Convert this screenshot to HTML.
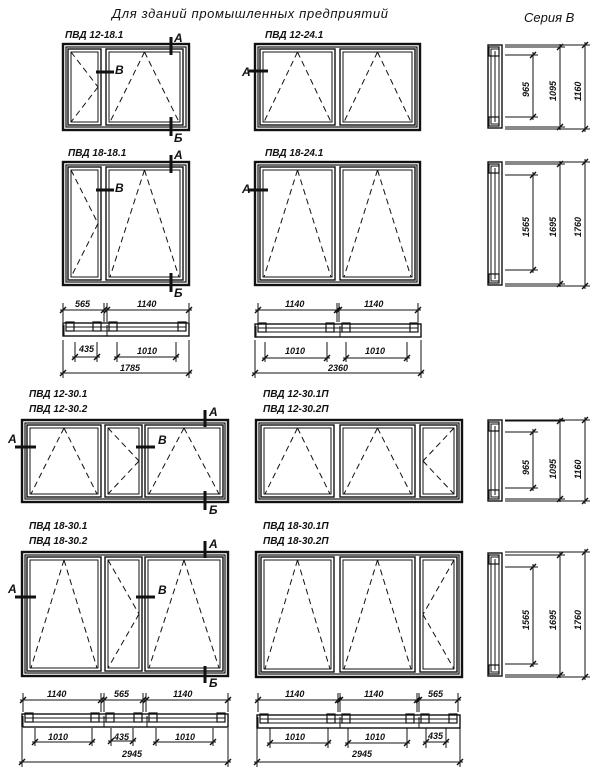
<!DOCTYPE html>
<html><head><meta charset="utf-8"><style>
html,body{margin:0;padding:0;background:#fff;}
svg{display:block;}
text{font-family:"Liberation Sans","DejaVu Sans",sans-serif;font-style:italic;font-weight:bold;fill:#111;}
.t{font-size:13px;font-weight:normal;}
.l{font-size:10px;}
.d{font-size:9px;}
.m{font-size:12px;}
</style></head><body>
<svg id="s" width="600" height="773" viewBox="0 0 600 773" xmlns="http://www.w3.org/2000/svg">
<rect width="600" height="773" fill="#fff"/>
<g id="g" fill="none" stroke="#111"></g>
<text class="t" x="112" y="18" textLength="276">Для зданий промышленных предприятий</text>
<text class="t" x="524" y="22">Серия В</text>
<text class="l" x="65" y="38">ПВД 12-18.1</text>
<text class="l" x="68" y="156">ПВД 18-18.1</text>
<text class="l" x="265" y="38">ПВД 12-24.1</text>
<text class="l" x="265" y="156">ПВД 18-24.1</text>
<text class="l" x="29" y="397">ПВД 12-30.1</text>
<text class="l" x="29" y="412">ПВД 12-30.2</text>
<text class="l" x="263" y="397">ПВД 12-30.1П</text>
<text class="l" x="263" y="412">ПВД 12-30.2П</text>
<text class="l" x="29" y="529">ПВД 18-30.1</text>
<text class="l" x="29" y="544">ПВД 18-30.2</text>
<text class="l" x="263" y="529">ПВД 18-30.1П</text>
<text class="l" x="263" y="544">ПВД 18-30.2П</text>
<!-- section marks labels -->
<text class="m" x="174" y="42">А</text><text class="m" x="174" y="142">Б</text><text class="m" x="115" y="74">В</text>
<text class="m" x="174" y="159">А</text><text class="m" x="174" y="297">Б</text><text class="m" x="115" y="192">В</text>
<text class="m" x="242" y="76">А</text><text class="m" x="242" y="193">А</text>
<text class="m" x="209" y="416">А</text><text class="m" x="209" y="514">Б</text><text class="m" x="8" y="443">А</text><text class="m" x="158" y="444">В</text>
<text class="m" x="209" y="548">А</text><text class="m" x="209" y="687">Б</text><text class="m" x="8" y="593">А</text><text class="m" x="158" y="594">В</text>
<!-- dims -->
<text class="d" x="75" y="307">565</text><text class="d" x="137" y="307">1140</text>
<text class="d" x="79" y="352">435</text><text class="d" x="137" y="354">1010</text><text class="d" x="120" y="371">1785</text>
<text class="d" x="285" y="307">1140</text><text class="d" x="364" y="307">1140</text>
<text class="d" x="285" y="354">1010</text><text class="d" x="365" y="354">1010</text><text class="d" x="328" y="371">2360</text>
<text class="d" x="47" y="697">1140</text><text class="d" x="114" y="697">565</text><text class="d" x="173" y="697">1140</text>
<text class="d" x="48" y="740">1010</text><text class="d" x="114" y="740">435</text><text class="d" x="175" y="740">1010</text><text class="d" x="122" y="757">2945</text>
<text class="d" x="285" y="697">1140</text><text class="d" x="364" y="697">1140</text><text class="d" x="428" y="697">565</text>
<text class="d" x="285" y="740">1010</text><text class="d" x="365" y="740">1010</text><text class="d" x="428" y="739">435</text><text class="d" x="352" y="757">2945</text>
<g class="d">
<text class="d" transform="translate(529,97) rotate(-90)">965</text>
<text class="d" transform="translate(556,101) rotate(-90)">1095</text>
<text class="d" transform="translate(581,101) rotate(-90)">1160</text>
<text class="d" transform="translate(529,237) rotate(-90)">1565</text>
<text class="d" transform="translate(556,237) rotate(-90)">1695</text>
<text class="d" transform="translate(581,237) rotate(-90)">1760</text>
<text class="d" transform="translate(529,475) rotate(-90)">965</text>
<text class="d" transform="translate(556,479) rotate(-90)">1095</text>
<text class="d" transform="translate(581,479) rotate(-90)">1160</text>
<text class="d" transform="translate(529,630) rotate(-90)">1565</text>
<text class="d" transform="translate(556,630) rotate(-90)">1695</text>
<text class="d" transform="translate(581,630) rotate(-90)">1760</text>
</g>
</svg>
<script>
var g=document.getElementById('g'),NS='http://www.w3.org/2000/svg';
function el(t,a){var e=document.createElementNS(NS,t);for(var k in a)e.setAttribute(k,a[k]);g.appendChild(e);return e;}
function R(x1,y1,x2,y2,w){el('rect',{x:x1,y:y1,width:x2-x1,height:y2-y1,'stroke-width':w||1.2});}
function L(x1,y1,x2,y2,w,da){var o={x1:x1,y1:y1,x2:x2,y2:y2,'stroke-width':w||1};if(da)o['stroke-dasharray']=da;el('line',o);}
function win(x1,y1,x2,y2,s){
 R(x1,y1,x2,y2,2.4);R(x1+3,y1+3,x2-3,y2-3,1.2);
 s.forEach(function(q){var a=q[0],b=q[1],t=q[2],ty=y1+5,by=y2-5;
  R(a,ty,b,by,1.4);var ia=a+3,ib=b-3,it=ty+3,iB=by-3;R(ia,it,ib,iB,1);
  var D='6,4';
  if(t=='^'){var c=(ia+ib)/2;L(c,it,ia+1,iB,1,D);L(c,it,ib-1,iB,1,D);}
  else if(t=='>'){var m=(it+iB)/2;L(ia,it,ib,m,1,D);L(ib,m,ia,iB,1,D);}
  else {var m=(it+iB)/2;L(ib,it,ia,m,1,D);L(ia,m,ib,iB,1,D);}
 });}
function mv(x,y1,y2){L(x,y1,x,y2,3);}
function mh(y,x1,x2){L(x1,y,x2,y,3);}
function tk(x,y){L(x-3,y+3,x+3,y-3,1.4);}
function dh(x1,x2,y,e1,e2){L(x1-3,y,x2+3,y,1);tk(x1,y);tk(x2,y);if(e1!=null){L(x1,e1,x1,e2,1);L(x2,e1,x2,e2,1);}}
function dv(x,y1,y2,xe){L(x,y1-3,x,y2+3,1);tk(x,y1);tk(x,y2);L(xe,y1,x+5,y1,1);L(xe,y2,x+5,y2,1);}
function plan(x1,x2,y,b){R(x1,y,x2,y+13,1.4);L(x1+3,y+4,x2-3,y+4,1);L(x1+3,y+8,x2-3,y+8,1);
 b.forEach(function(q){R(q[0]+3,y-1,q[0]+11,y+8,1.2);R(q[1]-11,y-1,q[1]-3,y+8,1.2);L(q[0]+1,y+13,q[0]+1,y+2,1);});}
// top windows
win(63,44,189,130,[[68,101,'>'],[106,183,'^']]);
win(63,162,189,285,[[68,101,'>'],[106,183,'^']]);
win(255,44,420,130,[[260,335,'^'],[340,415,'^']]);
win(255,162,420,285,[[260,335,'^'],[340,415,'^']]);
win(22,420,228,502,[[27,101,'^'],[105,142,'>'],[145,223,'^']]);
win(22,552,228,676,[[27,101,'^'],[105,142,'>'],[145,223,'^']]);
win(256,420,462,502,[[261,334,'^'],[340,415,'^'],[420,457,'<']]);
win(256,552,462,677,[[261,334,'^'],[340,415,'^'],[420,457,'<']]);
// section marks
mv(171,37,55);mv(171,117,136);mh(72,96,114);
mv(171,155,173);mv(171,273,292);mh(190,96,114);
mh(71,249,268);mh(190,249,268);
mv(205,410,427);mv(205,491,510);mh(447,15,36);mh(447,136,155);
mv(205,541,558);mv(205,666,683);mh(597,15,36);mh(597,136,155);
// plan dims top-left
dh(63,104,310,303,322);dh(107,189,310,303,322);
plan(63,189,323,[[63,104],[106,189]]);
dh(75,97,357,342,362);dh(117,176,357,342,362);dh(63,189,373,340,378);
// top-right
dh(258,337,310,303,322);dh(339,418,310,303,322);
plan(255,421,324,[[255,337],[339,421]]);
dh(265,327,358,342,362);dh(346,407,358,342,362);dh(255,421,373,340,378);
// bottom-left
dh(23,101,700,693,712);dh(104,143,700,693,712);dh(146,228,700,693,712);
plan(22,228,714,[[22,102],[103,145],[146,228]]);
dh(35,92,742,728,746);dh(111,133,741,728,746);dh(156,213,742,728,746);dh(22,228,762,728,767);
// bottom-right
dh(258,338,700,693,712);dh(340,417,700,693,712);dh(419,458,700,693,712);
plan(257,460,715,[[257,338],[339,417],[418,460]]);
dh(270,328,743,728,748);dh(348,407,743,728,748);dh(426,446,742,728,748);dh(257,460,762,728,767);
// side profiles
function prof(y1,y2){R(488,y1,502,y2,1.4);R(491,y1+4,499,y2-4,1);L(495,y1+6,495,y2-6,1);R(489,y1+2,499,y1+11,1.2);R(489,y2-11,499,y2-2,1.2);}
prof(45,128);dv(533,55,117,505);dv(560,47,127,505);dv(585,45,129,505);
prof(162,285);dv(533,175,270,505);dv(560,164,284,505);dv(585,162,286,505);
prof(420,501);dv(533,432,488,505);dv(560,421,499,505);dv(585,420,501,505);
prof(553,676);dv(533,567,664,505);dv(560,555,675,505);dv(585,552,677,505);
</script>
</body></html>
